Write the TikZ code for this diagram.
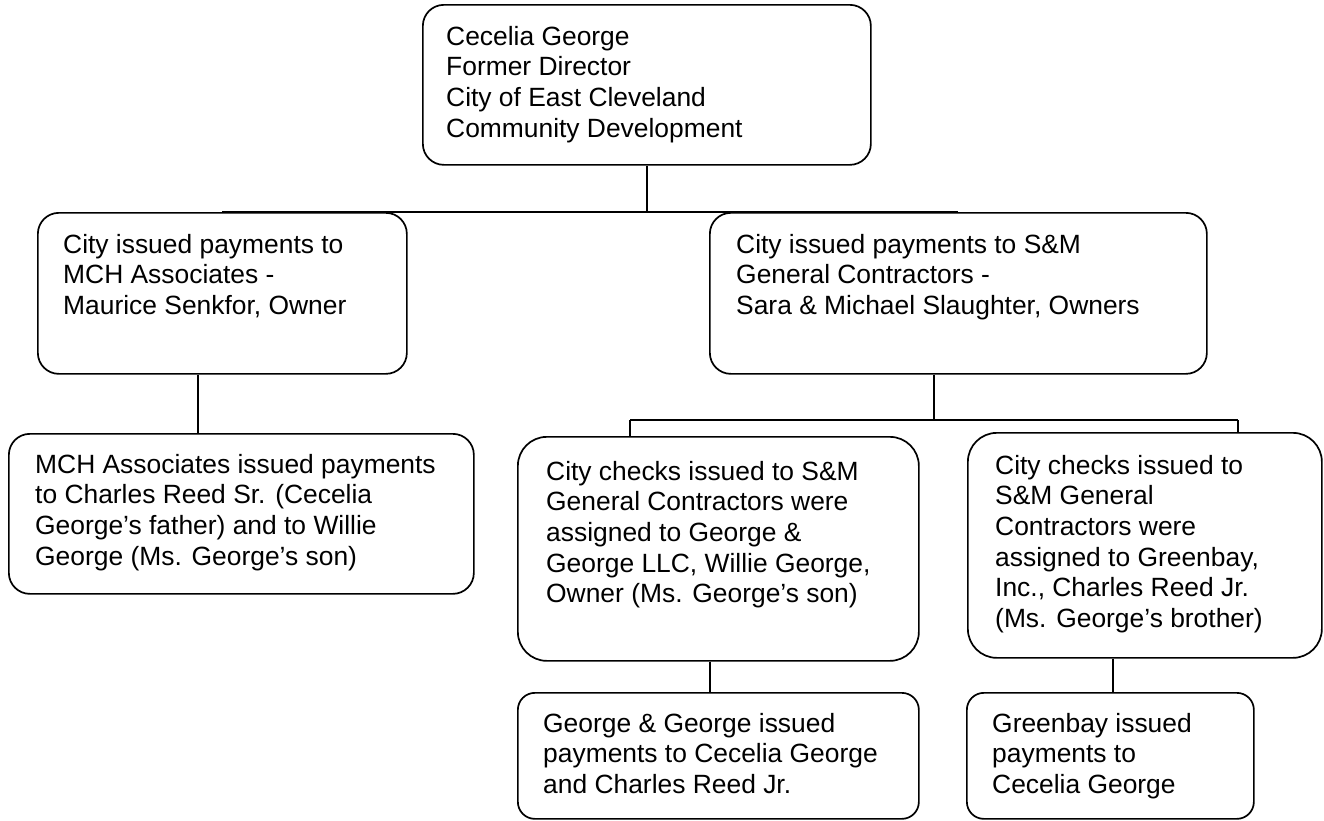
\documentclass[tikz,border=0pt]{standalone}
\usepackage{fontspec}
\setmainfont{Liberation Sans}
\usetikzlibrary{calc}
\begin{document}
\begin{tikzpicture}[x=1pt,y=-1pt,
  box/.style={draw, rounded corners=#1, fill=white, inner sep=0pt, line width=1.7pt, anchor=north west},
  txt/.style={anchor=north west, inner sep=0pt, align=left, font=\fontsize{26.4pt}{30.6pt}\selectfont},
  conn/.style={line width=1.7pt}]
\fill[white] (0,0) rectangle (1324,820);
\useasboundingbox (0,0) rectangle (1324,820);

% boxes
\node[box=21, minimum width=448pt, minimum height=160pt] (top) at (422,4) {};
\node[box=21, minimum width=369pt, minimum height=161pt] (L1) at (37,212) {};
\node[box=21, minimum width=497pt, minimum height=161pt] (R1) at (709,212) {};
\node[box=21, minimum width=465pt, minimum height=160pt] (L2) at (8,433) {};
\node[box=29, minimum width=401pt, minimum height=224pt] (G1) at (517,436) {};
\node[box=29, minimum width=354pt, minimum height=225pt] (G2) at (967,432) {};
\node[box=17, minimum width=401pt, minimum height=126pt] (G3) at (517,692) {};
\node[box=17, minimum width=287pt, minimum height=126pt] (G4) at (966,692) {};

% texts
\node[txt] (tTop) at (446,26) {Cecelia George\\Former Director\\City of East Cleveland\\Community Development};
\node[txt] (tL1) at (63,234) {City issued payments to\\MCH Associates -\\Maurice Senkfor, Owner};
\node[txt] (tR1) at (736,234) {City issued payments to S\&M\\General Contractors -\\Sara \& Michael Slaughter, Owners};
\node[txt] (tL2) at (35,454) {MCH Associates issued payments\\to Charles Reed Sr. (Cecelia\\George’s father) and to Willie\\George (Ms. George’s son)};
\node[txt] (tG1) at (546,461) {City checks issued to S\&M\\General Contractors were\\assigned to George \&\\George LLC, Willie George,\\Owner (Ms. George’s son)};
\node[txt] (tG2) at (995,455) {City checks issued to\\S\&M General\\Contractors were\\assigned to Greenbay,\\Inc., Charles Reed Jr.\\(Ms. George’s brother)};
\node[txt] (tG3) at (543,713) {George \& George issued\\payments to Cecelia George\\and Charles Reed Jr.};
\node[txt] (tG4) at (992,713) {Greenbay issued\\payments to\\Cecelia George};

% connectors
\coordinate (l1d) at ([xshift=161pt]L1.south west);
\coordinate (r1d) at ([xshift=225pt]R1.south west);
\coordinate (g1d) at ([xshift=193pt]G1.south west);
\coordinate (g2d) at ([xshift=146pt]G2.south west);
\coordinate (busL) at (630,420);
\coordinate (busR) at (1238,420);

\draw[conn] (top.south) -- (top.south |- L1.north);
\draw[conn] (L1.north) -- (R1.north);
\draw[conn] (l1d) -- (l1d |- L2.north);
\draw[conn] (r1d) -- (r1d |- busL);
\draw[conn] (busL) -- (busR);
\draw[conn] (busL) -- (busL |- G1.north);
\draw[conn] (busR) -- (busR |- G2.north);
\draw[conn] (g1d) -- (g1d |- G3.north);
\draw[conn] (g2d) -- (g2d |- G4.north);
\end{tikzpicture}
\end{document}
